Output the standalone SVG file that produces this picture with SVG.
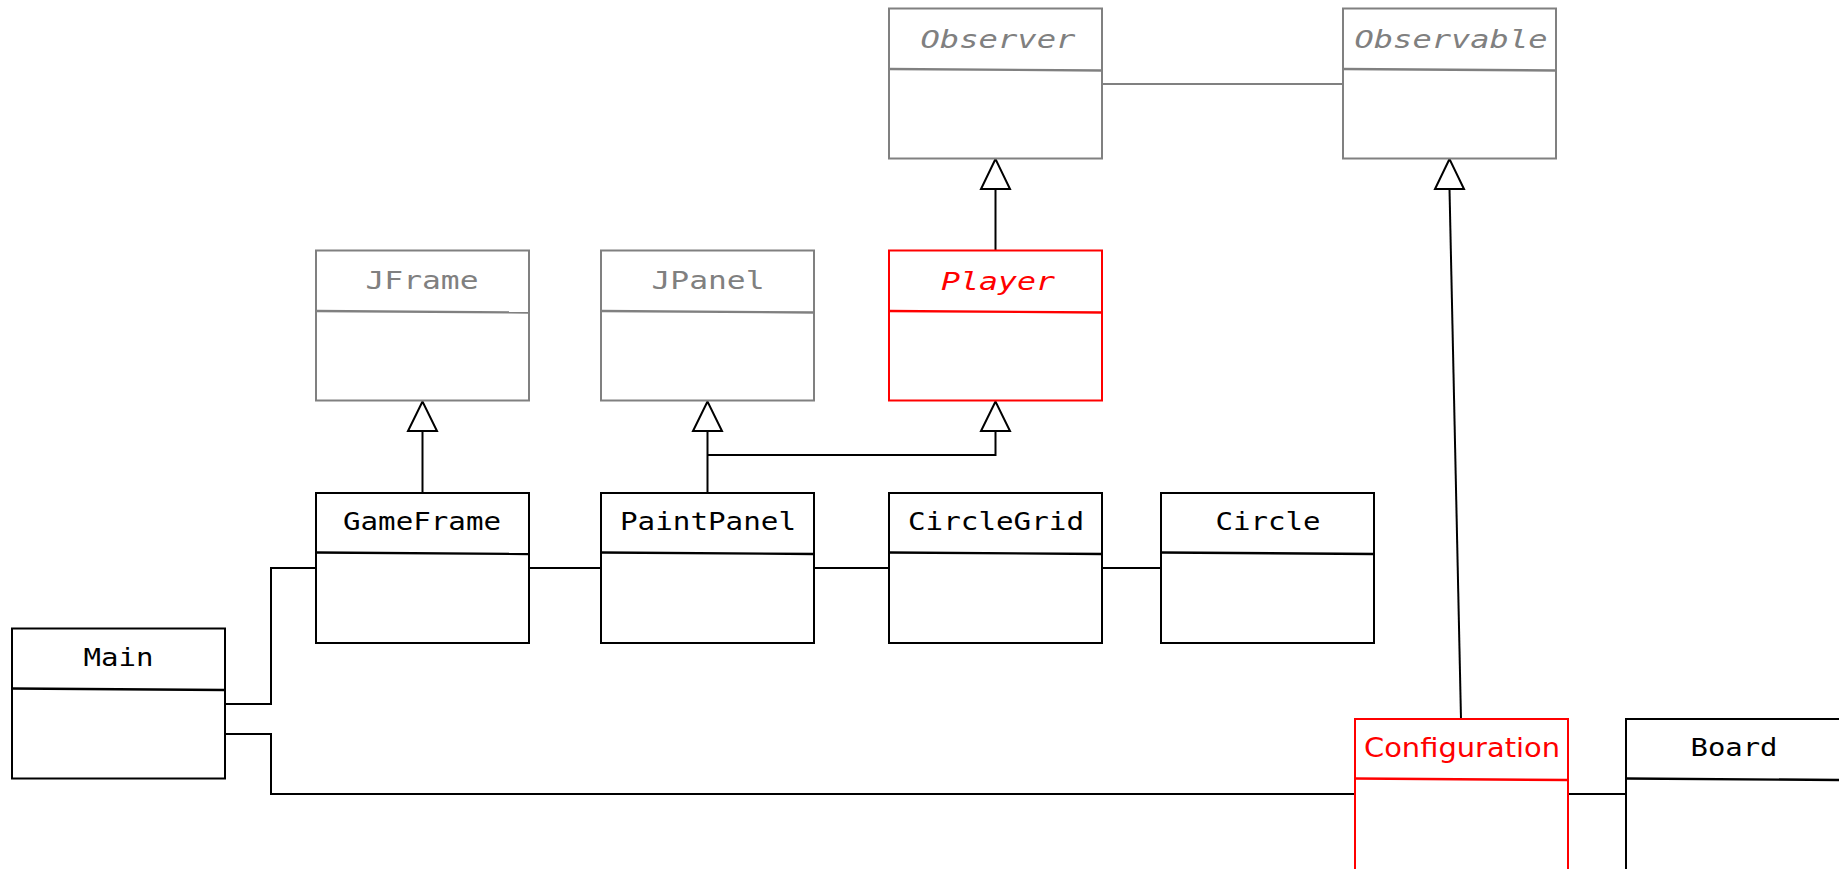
<svg xmlns="http://www.w3.org/2000/svg" width="1839" height="869" viewBox="0 0 1839 869">
  <style>
    .box { fill: #ffffff; stroke-width: 2; }
    .blk { stroke: #000000; }
    .gry { stroke: #808080; }
    .red { stroke: #ff0000; }
    .div { fill: none; stroke-width: 2.4; }
    .lbl { font-family: "DejaVu Sans Mono", "Liberation Mono", monospace; font-size: 24px; text-anchor: middle; }
    .ital { font-style: italic; font-size: 25px; }
    .sans { font-family: "DejaVu Sans", "Liberation Sans", sans-serif; font-size: 26px; }
    .tb { fill: #000000; }
    .tg { fill: #808080; }
    .tr { fill: #ff0000; }
    .conn { fill: none; stroke: #000000; stroke-width: 2; }
    .connG { fill: none; stroke: #808080; stroke-width: 2; }
    .tri { fill: #ffffff; stroke: #000000; stroke-width: 2; stroke-linejoin: miter; }
  </style>

  <!-- connectors -->
  <g id="connectors">
    <!-- associations -->
    <line class="connG" x1="1102" y1="84" x2="1343" y2="84"/>
    <polyline class="conn" points="225,704 271,704 271,568 316,568"/>
    <polyline class="conn" points="225,734 271,734 271,794 1355,794"/>
    <line class="conn" x1="529" y1="568" x2="601" y2="568"/>
    <line class="conn" x1="814" y1="568" x2="889" y2="568"/>
    <line class="conn" x1="1102" y1="568" x2="1161" y2="568"/>
    <line class="conn" x1="1568" y1="794" x2="1626" y2="794"/>
    <!-- generalizations -->
    <line class="conn" x1="422.5" y1="493" x2="422.5" y2="431"/>
    <polygon class="tri" points="422.5,401.5 408,431 437,431"/>
    <line class="conn" x1="707.5" y1="493" x2="707.5" y2="431"/>
    <polyline class="conn" points="707.5,455 995.5,455 995.5,431"/>
    <polygon class="tri" points="707.5,401.5 693,431 722,431"/>
    <polygon class="tri" points="995.5,401.5 981,431 1010,431"/>
    <line class="conn" x1="995.5" y1="250" x2="995.5" y2="189"/>
    <polygon class="tri" points="995.5,159 981,189 1010,189"/>
    <line class="conn" x1="1461" y1="719" x2="1449.5" y2="189"/>
    <polygon class="tri" points="1449.5,159 1435,189 1464,189"/>
  </g>

  <!-- class nodes -->
  <g id="observer">
    <rect class="box gry" x="889" y="8.5" width="213" height="150"/>
    <path class="div gry" d="M889,69 L1102,70.5"/>
    <text class="lbl ital tg" x="998" y="48" textLength="155" lengthAdjust="spacingAndGlyphs">Observer</text>
  </g>
  <g id="observable">
    <rect class="box gry" x="1343" y="8.5" width="213" height="150"/>
    <path class="div gry" d="M1343,69 L1556,70.5"/>
    <text class="lbl ital tg" x="1451" y="48" textLength="193" lengthAdjust="spacingAndGlyphs">Observable</text>
  </g>
  <g id="jframe">
    <rect class="box gry" x="316" y="250.5" width="213" height="150"/>
    <path class="div gry" d="M316,311 L529,312.5"/>
    <text class="lbl tg" x="422" y="288.5" textLength="113" lengthAdjust="spacingAndGlyphs">JFrame</text>
  </g>
  <g id="jpanel">
    <rect class="box gry" x="601" y="250.5" width="213" height="150"/>
    <path class="div gry" d="M601,311 L814,312.5"/>
    <text class="lbl tg" x="708" y="288.5" textLength="113" lengthAdjust="spacingAndGlyphs">JPanel</text>
  </g>
  <g id="player">
    <rect class="box red" x="889" y="250.5" width="213" height="150"/>
    <path class="div red" d="M889,311 L1102,312.5"/>
    <text class="lbl ital tr" x="998" y="290" textLength="114" lengthAdjust="spacingAndGlyphs">Player</text>
  </g>
  <g id="gameframe">
    <rect class="box blk" x="316" y="493" width="213" height="150"/>
    <path class="div blk" d="M316,552.5 L529,554"/>
    <text class="lbl tb" x="422" y="530" textLength="158" lengthAdjust="spacingAndGlyphs">GameFrame</text>
  </g>
  <g id="paintpanel">
    <rect class="box blk" x="601" y="493" width="213" height="150"/>
    <path class="div blk" d="M601,552.5 L814,554"/>
    <text class="lbl tb" x="708" y="530" textLength="176" lengthAdjust="spacingAndGlyphs">PaintPanel</text>
  </g>
  <g id="circlegrid">
    <rect class="box blk" x="889" y="493" width="213" height="150"/>
    <path class="div blk" d="M889,552.5 L1102,554"/>
    <text class="lbl tb" x="996" y="530" textLength="176" lengthAdjust="spacingAndGlyphs">CircleGrid</text>
  </g>
  <g id="circle">
    <rect class="box blk" x="1161" y="493" width="213" height="150"/>
    <path class="div blk" d="M1161,552.5 L1374,554"/>
    <text class="lbl tb" x="1268" y="529.5" textLength="105" lengthAdjust="spacingAndGlyphs">Circle</text>
  </g>
  <g id="main">
    <rect class="box blk" x="12" y="628.5" width="213" height="150"/>
    <path class="div blk" d="M12,688.5 L225,690"/>
    <text class="lbl tb" x="118.5" y="666" textLength="70" lengthAdjust="spacingAndGlyphs">Main</text>
  </g>
  <g id="configuration">
    <rect class="box red" x="1355" y="719" width="213" height="170"/>
    <path class="div red" d="M1355,778.5 L1568,780"/>
    <text class="lbl sans tr" x="1462" y="757" textLength="196" lengthAdjust="spacingAndGlyphs">Configuration</text>
  </g>
  <g id="board">
    <rect class="box blk" x="1626" y="719" width="230" height="170"/>
    <path class="div blk" d="M1626,778.5 L1839,780"/>
    <text class="lbl tb" x="1734" y="756" textLength="87" lengthAdjust="spacingAndGlyphs">Board</text>
  </g>
</svg>
